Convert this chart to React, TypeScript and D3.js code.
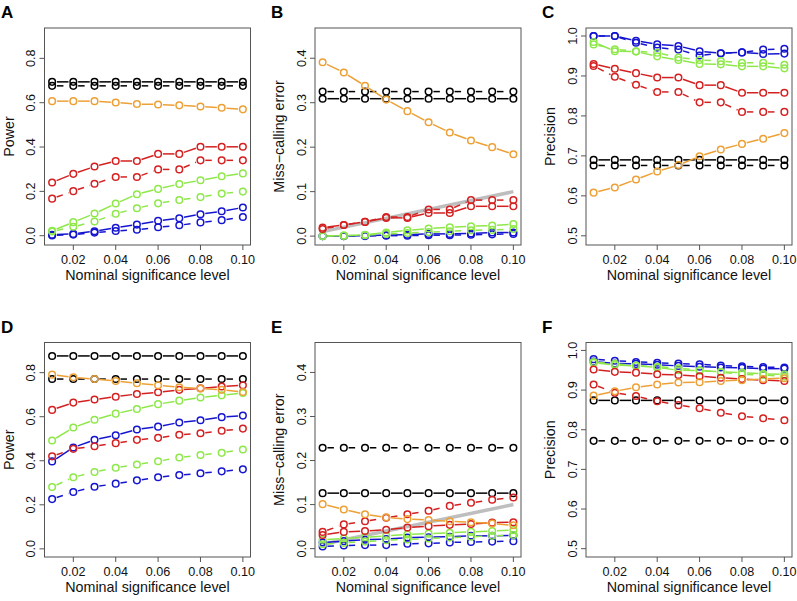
import React from "react";
import * as d3 from "d3";

// ---------- data ----------
const alphas = [0.01, 0.02, 0.03, 0.04, 0.05, 0.06, 0.07, 0.08, 0.09, 0.1];
const xTicks = [0.02, 0.04, 0.06, 0.08, 0.1];
const powerTicks = [0, 0.2, 0.4, 0.6, 0.8];
const errorTicks = [0, 0.1, 0.2, 0.3, 0.4];
const precisionTicks = [0.5, 0.6, 0.7, 0.8, 0.9, 1.0];
const panelLetters = ["A", "B", "C", "D", "E", "F"];
const yTitles = ["Power", "Miss\u2212calling error", "Precision"];
const xTitle = "Nominal significance level";
const seriesColors = ["#000000", "#EDA035", "#D42020", "#8EE84A", "#1515D0"]; // black, orange, red, green, blue

// each panel: solid series and dashed series, order black, orange, red, green, blue (null = not drawn)
const panelA_solid = [
  [0.694, 0.694, 0.694, 0.694, 0.694, 0.694, 0.694, 0.694, 0.694, 0.694],
  [0.607, 0.607, 0.607, 0.601, 0.594, 0.592, 0.588, 0.583, 0.577, 0.57],
  [0.24, 0.279, 0.312, 0.337, 0.337, 0.369, 0.369, 0.401, 0.401, 0.401],
  [0.022, 0.061, 0.1, 0.145, 0.187, 0.211, 0.233, 0.25, 0.268, 0.281],
  [0.004, 0.008, 0.02, 0.036, 0.05, 0.067, 0.079, 0.097, 0.11, 0.127],
];
const panelA_dashed = [
  [0.676, 0.676, 0.676, 0.676, 0.676, 0.676, 0.676, 0.676, 0.676, 0.676],
  null,
  [0.167, 0.201, 0.234, 0.265, 0.265, 0.299, 0.299, 0.34, 0.34, 0.34],
  [0.019, 0.04, 0.064, 0.099, 0.124, 0.146, 0.161, 0.174, 0.19, 0.199],
  [0.001, 0.005, 0.014, 0.021, 0.027, 0.038, 0.047, 0.06, 0.07, 0.084],
];
const panelB_solid = [
  [0.309, 0.309, 0.309, 0.309, 0.309, 0.309, 0.309, 0.309, 0.309, 0.309],
  [0.391, 0.368, 0.338, 0.307, 0.281, 0.256, 0.233, 0.215, 0.2, 0.184],
  [0.019, 0.025, 0.032, 0.041, 0.041, 0.052, 0.052, 0.067, 0.067, 0.067],
  [0.0, 0.001, 0.003, 0.008, 0.013, 0.017, 0.02, 0.022, 0.024, 0.027],
  [0.0, 0.0, 0.001, 0.002, 0.003, 0.005, 0.005, 0.006, 0.008, 0.008],
];
const panelB_dashed = [
  [0.325, 0.325, 0.325, 0.325, 0.325, 0.325, 0.325, 0.325, 0.325, 0.325],
  null,
  [0.016, 0.025, 0.032, 0.043, 0.043, 0.06, 0.06, 0.081, 0.081, 0.081],
  [0.0, 0.001, 0.002, 0.005, 0.007, 0.009, 0.011, 0.013, 0.014, 0.016],
  [0.0, 0.0, 0.0, 0.001, 0.001, 0.002, 0.002, 0.003, 0.004, 0.005],
];
const panelC_solid = [
  [0.69, 0.69, 0.69, 0.69, 0.69, 0.69, 0.69, 0.69, 0.69, 0.69],
  [0.608, 0.621, 0.641, 0.661, 0.677, 0.699, 0.716, 0.73, 0.743, 0.757],
  [0.93, 0.918, 0.907, 0.896, 0.896, 0.877, 0.877, 0.858, 0.858, 0.858],
  [0.985, 0.962, 0.961, 0.949, 0.94, 0.93, 0.929, 0.924, 0.924, 0.919],
  [1.0, 1.0, 0.988, 0.979, 0.975, 0.962, 0.957, 0.959, 0.955, 0.956],
];
const panelC_dashed = [
  [0.676, 0.676, 0.676, 0.676, 0.676, 0.676, 0.676, 0.676, 0.676, 0.676],
  null,
  [0.925, 0.898, 0.878, 0.86, 0.86, 0.834, 0.834, 0.81, 0.81, 0.81],
  [0.979, 0.967, 0.962, 0.958, 0.946, 0.94, 0.937, 0.933, 0.933, 0.928],
  [1.0, 1.0, 0.983, 0.971, 0.966, 0.951, 0.957, 0.959, 0.966, 0.968],
];
const panelD_solid = [
  [0.876, 0.876, 0.876, 0.876, 0.876, 0.876, 0.876, 0.876, 0.876, 0.876],
  [0.791, 0.779, 0.771, 0.762, 0.752, 0.743, 0.734, 0.728, 0.722, 0.712],
  [0.631, 0.664, 0.678, 0.691, 0.703, 0.711, 0.722, 0.729, 0.737, 0.743],
  [0.492, 0.551, 0.586, 0.614, 0.635, 0.657, 0.673, 0.687, 0.697, 0.708],
  [0.397, 0.46, 0.495, 0.516, 0.542, 0.555, 0.574, 0.584, 0.598, 0.605],
];
const panelD_dashed = [
  [0.771, 0.771, 0.771, 0.771, 0.771, 0.771, 0.771, 0.771, 0.771, 0.771],
  null,
  [0.42, 0.454, 0.466, 0.48, 0.495, 0.504, 0.518, 0.525, 0.536, 0.546],
  [0.281, 0.325, 0.349, 0.368, 0.383, 0.398, 0.415, 0.426, 0.436, 0.451],
  [0.226, 0.258, 0.282, 0.296, 0.311, 0.325, 0.335, 0.343, 0.352, 0.361],
];
const panelE_solid = [
  [0.126, 0.126, 0.126, 0.126, 0.126, 0.126, 0.126, 0.126, 0.126, 0.126],
  [0.101, 0.089, 0.078, 0.071, 0.067, 0.065, 0.062, 0.06, 0.057, 0.053],
  [0.031, 0.038, 0.04, 0.043, 0.048, 0.051, 0.054, 0.056, 0.059, 0.06],
  [0.02, 0.023, 0.026, 0.029, 0.032, 0.034, 0.036, 0.038, 0.04, 0.042],
  [0.014, 0.017, 0.02, 0.022, 0.025, 0.026, 0.027, 0.029, 0.029, 0.03],
];
const panelE_dashed = [
  [0.229, 0.229, 0.229, 0.229, 0.229, 0.229, 0.229, 0.229, 0.229, 0.229],
  null,
  [0.038, 0.055, 0.062, 0.07, 0.078, 0.086, 0.097, 0.104, 0.111, 0.116],
  [0.01, 0.013, 0.016, 0.019, 0.021, 0.023, 0.025, 0.027, 0.029, 0.031],
  [0.005, 0.007, 0.008, 0.008, 0.011, 0.012, 0.014, 0.015, 0.016, 0.017],
];
const panelF_solid = [
  [0.874, 0.874, 0.874, 0.874, 0.874, 0.874, 0.874, 0.874, 0.874, 0.874],
  [0.886, 0.897, 0.907, 0.914, 0.919, 0.92, 0.923, 0.925, 0.928, 0.93],
  [0.952, 0.946, 0.944, 0.94, 0.938, 0.935, 0.931, 0.928, 0.925, 0.923],
  [0.969, 0.963, 0.961, 0.957, 0.95, 0.949, 0.946, 0.944, 0.941, 0.94],
  [0.972, 0.967, 0.966, 0.964, 0.961, 0.959, 0.957, 0.956, 0.954, 0.954],
];
const panelF_dashed = [
  [0.772, 0.772, 0.772, 0.772, 0.772, 0.772, 0.772, 0.772, 0.772, 0.772],
  null,
  [0.914, 0.893, 0.885, 0.872, 0.862, 0.854, 0.843, 0.834, 0.829, 0.824],
  [0.971, 0.966, 0.962, 0.959, 0.955, 0.95, 0.945, 0.94, 0.938, 0.934],
  [0.978, 0.974, 0.971, 0.969, 0.967, 0.965, 0.962, 0.96, 0.958, 0.957],
];
const referenceLine = [0.01, 0.1]; // y = x diagonal on miss-calling panels

// ---------- layout ----------
const W = 797;
const H = 601;
const colLeft = [44.5, 315, 586];
const boxW = 206;
const rowBox = [
  [28, 245],
  [342.5, 557],
];
const font = "'Liberation Sans', Arial, Helvetica, sans-serif";
const gap = 4.8;
const R = 3.3;
const lw = 1.5;

type PanelDef = {
  letter: string;
  col: number;
  row: number;
  solid: (number[] | null)[];
  dashed: (number[] | null)[];
  yDomain: [number, number];
  yTicks: number[];
  yFmt: (v: number) => string;
  ref: boolean;
};

const fmt1 = d3.format(".1f");
const fmt2 = d3.format(".2f");

const panels: PanelDef[] = [
  { letter: panelLetters[0], col: 0, row: 0, solid: panelA_solid, dashed: panelA_dashed, yDomain: [-0.042, 0.937], yTicks: powerTicks, yFmt: fmt1, ref: false },
  { letter: panelLetters[1], col: 1, row: 0, solid: panelB_solid, dashed: panelB_dashed, yDomain: [-0.02, 0.468], yTicks: errorTicks, yFmt: fmt1, ref: true },
  { letter: panelLetters[2], col: 2, row: 0, solid: panelC_solid, dashed: panelC_dashed, yDomain: [0.477, 1.02], yTicks: precisionTicks, yFmt: fmt1, ref: false },
  { letter: panelLetters[3], col: 0, row: 1, solid: panelD_solid, dashed: panelD_dashed, yDomain: [-0.037, 0.937], yTicks: powerTicks, yFmt: fmt1, ref: false },
  { letter: panelLetters[4], col: 1, row: 1, solid: panelE_solid, dashed: panelE_dashed, yDomain: [-0.019, 0.468], yTicks: errorTicks, yFmt: fmt1, ref: true },
  { letter: panelLetters[5], col: 2, row: 1, solid: panelF_solid, dashed: panelF_dashed, yDomain: [0.479, 1.02], yTicks: precisionTicks, yFmt: fmt1, ref: false },
];

function segments(pts: [number, number][]) {
  const out: [number, number, number, number][] = [];
  for (let i = 0; i < pts.length - 1; i++) {
    const [x1, y1] = pts[i];
    const [x2, y2] = pts[i + 1];
    const dx = x2 - x1;
    const dy = y2 - y1;
    const len = Math.hypot(dx, dy);
    if (len <= 2 * gap) continue;
    const ux = dx / len;
    const uy = dy / len;
    out.push([x1 + ux * gap, y1 + uy * gap, x2 - ux * gap, y2 - uy * gap]);
  }
  return out;
}

function Series({ values, color, dashed, x, y }: { values: number[]; color: string; dashed: boolean; x: any; y: any }) {
  const pts: [number, number][] = values.map((v, i) => [x(alphas[i]), y(v)]);
  const segs = segments(pts);
  return (
    <g>
      {segs.map((s, i) => (
        <line
          key={"s" + i}
          x1={s[0]}
          y1={s[1]}
          x2={s[2]}
          y2={s[3]}
          stroke={color}
          strokeWidth={lw}
          strokeDasharray={dashed ? "6.5 6" : undefined}
        />
      ))}
      {pts.map((p, i) => (
        <circle key={"c" + i} cx={p[0]} cy={p[1]} r={R} fill="none" stroke={color} strokeWidth={lw} />
      ))}
    </g>
  );
}

function Panel({ p }: { p: PanelDef }) {
  const left = colLeft[p.col];
  const right = left + boxW;
  const [top, bottom] = rowBox[p.row];
  const x = d3.scaleLinear().domain([0.0064, 0.1036]).range([left, right]);
  const y = d3.scaleLinear().domain(p.yDomain).range([bottom, top]);
  const drawOrder = [0, 4, 3, 2, 1];
  return (
    <g>
      <text x={p.col === 0 ? 1 : left - 44} y={top - 10} fontFamily={font} fontWeight="bold" fontSize={17} fill="#000">
        {p.letter}
      </text>
      <rect x={left} y={top} width={boxW} height={bottom - top} fill="none" stroke="#555" strokeWidth={1} />
      {/* x axis */}
      {xTicks.map((t) => (
        <g key={"xt" + t}>
          <line x1={x(t)} x2={x(t)} y1={bottom} y2={bottom + 5} stroke="#555" strokeWidth={1} />
          <text x={x(t)} y={bottom + 19} textAnchor="middle" fontFamily={font} fontSize={12.6} fill="#111">
            {fmt2(t)}
          </text>
        </g>
      ))}
      <text x={(left + right) / 2} y={bottom + 35} textAnchor="middle" fontFamily={font} fontSize={14.3} fill="#111">
        {xTitle}
      </text>
      {/* y axis */}
      {p.yTicks.map((t) => (
        <g key={"yt" + t}>
          <line x1={left - 5} x2={left} y1={y(t)} y2={y(t)} stroke="#555" strokeWidth={1} />
          <text
            transform={`translate(${left - 9.5},${y(t)}) rotate(-90)`}
            textAnchor="middle"
            fontFamily={font}
            fontSize={12.6}
            fill="#111"
          >
            {p.yFmt(t)}
          </text>
        </g>
      ))}
      <text
        transform={`translate(${left - 31},${(top + bottom) / 2}) rotate(-90)`}
        textAnchor="middle"
        fontFamily={font}
        fontSize={14.3}
        fill="#111"
      >
        {yTitles[p.col]}
      </text>
      {p.ref && (
        <line
          x1={x(referenceLine[0])}
          y1={y(referenceLine[0])}
          x2={x(referenceLine[1])}
          y2={y(referenceLine[1])}
          stroke="#BEBEBE"
          strokeWidth={3.5}
        />
      )}
      {drawOrder.map((ci) => (
        <g key={"ser" + ci}>
          {p.dashed[ci] && <Series values={p.dashed[ci] as number[]} color={seriesColors[ci]} dashed={true} x={x} y={y} />}
          {p.solid[ci] && <Series values={p.solid[ci] as number[]} color={seriesColors[ci]} dashed={false} x={x} y={y} />}
        </g>
      ))}
    </g>
  );
}

export default function App() {
  return (
    <svg
      width={W}
      height={H}
      viewBox={`0 0 ${W} ${H}`}
      style={{ position: "absolute", left: 0, top: 0, background: "#fff", display: "block" }}
    >
      <rect x={0} y={0} width={W} height={H} fill="#fff" />
      {panels.map((p) => (
        <Panel key={p.letter} p={p} />
      ))}
    </svg>
  );
}
